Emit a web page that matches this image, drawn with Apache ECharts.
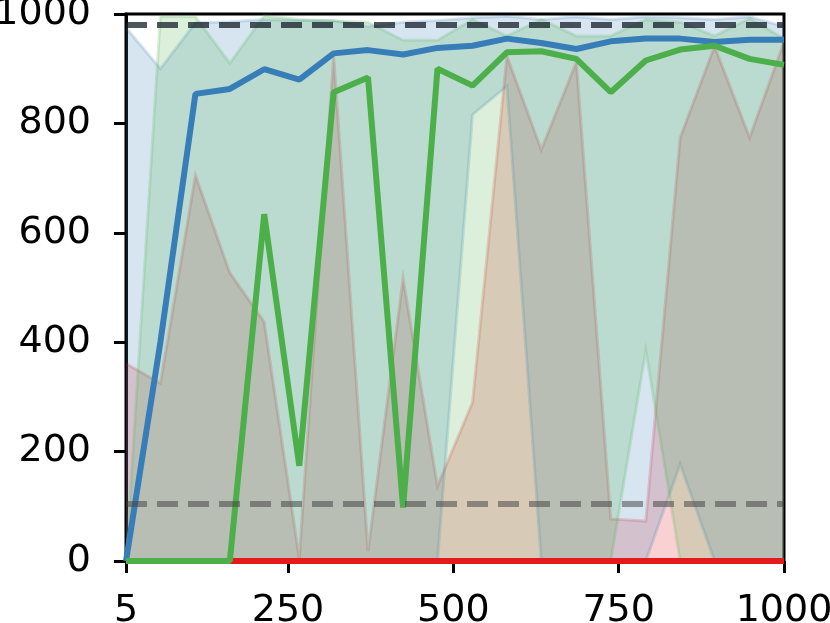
<!DOCTYPE html>
<html>
<head>
<meta charset="utf-8">
<title>Runs</title>
<script src="https://cdn.jsdelivr.net/npm/echarts@6/dist/echarts.min.js"></script>
<style>
    html, body { margin: 0; padding: 0; background: #fff; }
    #chart { width: 830px; height: 623px; }
</style>
</head>
<body>
<div id="chart"></div>
<script>
    // x positions of the evaluation steps
    const steps = [5, 57, 110, 162, 214, 267, 319, 371, 424, 476, 529, 581, 633, 686, 738, 791, 843, 895, 948, 1000];
    const xTicks = [5, 250, 500, 750, 1000];

    // blue run
    const blueMid = [0, 400, 854, 863, 899, 880, 928, 934, 926, 938, 942, 955, 947, 936, 950, 955, 955, 949, 953, 953];
    const blueLow = [0, 0, 0, 0, 0, 0, 0, 0, 0, 0, 816, 868, 0, 0, 0, 0, 177, 0, 0, 0];
    const blueHigh = [975, 900, 984, 986, 990, 988, 988, 977, 985, 988, 993, 996, 990, 995, 990, 995, 993, 990, 995, 977];

    // green run
    const greenMid = [0, 0, 0, 0, 634, 174, 857, 884, 98, 900, 869, 930, 932, 918, 857, 915, 935, 942, 918, 907];
    const greenLow = [0, 0, 0, 0, 0, 0, 0, 0, 0, 0, 0, 0, 0, 0, 0, 385, 0, 0, 0, 0];
    const greenHigh = [0, 996, 995, 910, 997, 990, 987, 985, 952, 952, 990, 960, 990, 960, 960, 990, 985, 960, 992, 955];

    // red run
    const redMid = [0, 0, 0, 0, 0, 0, 0, 0, 0, 0, 0, 0, 0, 0, 0, 0, 0, 0, 0, 0];
    const redLow = [0, 0, 0, 0, 0, 0, 0, 0, 0, 0, 0, 0, 0, 0, 0, 0, 0, 0, 0, 0];
    const redHigh = [361, 325, 705, 527, 437, 5, 923, 18, 517, 137, 290, 923, 752, 912, 77, 73, 774, 941, 774, 949];

    // dashed reference levels
    const upperLevel = 981;
    const lowerLevel = 104;

    const pairs = (ys) => steps.map((x, i) => [x, ys[i]]);

    // min..max band drawn as one polygon plus its two faint edges
    function band(name, lo, hi, color) {
        return {
            name: name + '-band', type: 'custom', silent: true, clip: true,
            data: [[steps[0], lo[0]]],
            renderItem: function (params, api) {
                const top = steps.map((x, i) => api.coord([x, hi[i]]));
                const bottom = steps.map((x, i) => api.coord([x, lo[i]]));
                const edge = { stroke: color, opacity: 0.2, lineWidth: 3, fill: null };
                return {
                    type: 'group',
                    children: [
                        { type: 'polygon', shape: { points: top.concat(bottom.slice().reverse()) },
                          style: { fill: color, opacity: 0.2 } },
                        { type: 'polyline', shape: { points: top }, style: edge },
                        { type: 'polyline', shape: { points: bottom }, style: edge }
                    ]
                };
            }
        };
    }

    function midLine(name, ys, color) {
        return {
            name: name, type: 'line', data: pairs(ys), showSymbol: false,
            lineStyle: { color: color, width: 6 }, clip: false
        };
    }

    const blue = '#377eb8', green = '#4daf4a', red = '#e41a1c';
    const labelFont = { fontFamily: 'DejaVu Sans', fontSize: 38, color: '#000' };

    const chart = echarts.init(document.getElementById('chart'));
    chart.setOption({
        animation: false,
        grid: {
            left: 126, right: 46, top: 14, bottom: 62, outerBoundsMode: 'none',
            show: true, borderColor: '#000', borderWidth: 3, backgroundColor: 'transparent'
        },
        xAxis: {
            type: 'value', min: 5, max: 1000,
            axisLine: { show: true, onZero: false, lineStyle: { color: '#000', width: 3 } },
            axisTick: { show: true, length: 12, lineStyle: { color: '#000', width: 3 }, customValues: xTicks },
            axisLabel: Object.assign({ margin: 31, customValues: xTicks, formatter: v => String(v) }, labelFont),
            splitLine: { show: false }
        },
        yAxis: {
            type: 'value', min: 0, max: 1000, interval: 200,
            axisLine: { show: true, lineStyle: { color: '#000', width: 3 } },
            axisTick: { show: true, length: 12, lineStyle: { color: '#000', width: 3 } },
            axisLabel: Object.assign({ margin: 35, formatter: v => String(v) }, labelFont),
            splitLine: { show: false }
        },
        series: [
            band('red', redLow, redHigh, red),
            band('blue', blueLow, blueHigh, blue),
            band('green', greenLow, greenHigh, green),
            {
                name: 'levels', type: 'line', data: [], silent: true,
                markLine: {
                    symbol: 'none', silent: true, label: { show: false },
                    data: [
                        { yAxis: upperLevel, lineStyle: { color: 'rgba(20,30,40,0.75)', width: 6, type: [21, 10] } },
                        { yAxis: lowerLevel, lineStyle: { color: 'rgba(60,60,60,0.5)', width: 6, type: [21, 10] } }
                    ]
                }
            },
            midLine('red', redMid, red),
            midLine('blue', blueMid, blue),
            midLine('green', greenMid, green)
        ]
    });
</script>
</body>
</html>
